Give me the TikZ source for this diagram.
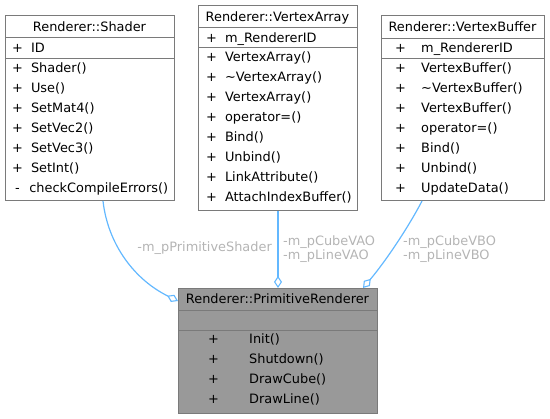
\documentclass[tikz,border=0pt]{standalone}
\usepackage{fontspec}
\setmainfont{DejaVu Sans}
\usetikzlibrary{arrows.meta,calc}
\definecolor{edgeblue}{HTML}{63B8FF}
\definecolor{boxline}{HTML}{7A7A7A}
\definecolor{lblgray}{HTML}{B4B4B4}
\definecolor{prfill}{HTML}{999999}
\begin{document}
\begin{tikzpicture}[x=1pt,y=-1pt,
  classbox/.style={draw=boxline, line width=1pt, inner sep=0pt, anchor=north west, fill=white},
  sep/.style={draw=boxline, line width=1pt},
  txt/.style={anchor=base west, inner sep=0pt, font=\fontsize{12.9}{15}\selectfont},
  ttl/.style={anchor=base, inner sep=0pt, font=\fontsize{12.9}{15}\selectfont},
  lbl/.style={inner sep=0pt, text=lblgray, font=\fontsize{12.9}{15}\selectfont},
  agg/.style={draw=edgeblue, line width=1.2pt, -{Diamond[open,length=12pt,width=8pt,line width=1.1pt]}},
]
\useasboundingbox (0,0) rectangle (550,419);

% ---------- Shader ----------
\node[classbox, minimum width=169pt, minimum height=185pt] (shader) at (5,15) {};
\draw[sep] (5,38) -- (174,38);
\draw[sep] (5,59) -- (174,59);
\node[ttl] (shT) at (89.5,31.5) {Renderer::Shader};
\node[txt] (shA) at (12,52.5) {+\hspace{8pt}ID};
\foreach \t [count=\i from 0] in {+\hspace{8pt}Shader(),+\hspace{8pt}Use(),+\hspace{8pt}SetMat4(),+\hspace{8pt}SetVec2(),+\hspace{8pt}SetVec3(),+\hspace{8pt}SetInt(),\hspace{3pt}-\hspace{9.5pt}checkCompileErrors()}
  \node[txt] (shM\i) at (12,72.7+20*\i) {\t};

% ---------- VertexArray ----------
\node[classbox, minimum width=159pt, minimum height=205pt] (va) at (198,5) {};
\draw[sep] (198,28) -- (357,28);
\draw[sep] (198,48) -- (357,48);
\node[ttl] (vaT) at (277.5,21.5) {Renderer::VertexArray};
\node[txt] (vaA) at (206,42.5) {+\hspace{8pt}m\_RendererID};
\foreach \t [count=\i from 0] in {VertexArray(),\textasciitilde VertexArray(),VertexArray(),operator=(),Bind(),Unbind(),LinkAttribute(),AttachIndexBuffer()}
  \node[txt] (vaM\i) at (206,61.7+20*\i) {+\hspace{8pt}\t};

% ---------- VertexBuffer ----------
\node[classbox, minimum width=163pt, minimum height=185pt] (vb) at (381,15) {};
\draw[sep] (381,39) -- (544,39);
\draw[sep] (381,59) -- (544,59);
\node[ttl] (vbT) at (462.5,31.5) {Renderer::VertexBuffer};
\node[txt] (vbP) at (395,52.5) {+};
\node[txt] (vbA) at (421,52.5) {m\_RendererID};
\foreach \t [count=\i from 0] in {VertexBuffer(),\textasciitilde VertexBuffer(),VertexBuffer(),operator=(),Bind(),Unbind(),UpdateData()}
  {\node[txt] (vbP\i) at (395,72.7+20*\i) {+};
   \node[txt] (vbM\i) at (421,72.7+20*\i) {\t};}

% ---------- PrimitiveRenderer ----------
\node[classbox, fill=prfill, minimum width=199pt, minimum height=125pt] (pr) at (178,288) {};
\draw[sep] (178,311) -- (377,311);
\draw[sep] (178,331) -- (377,331);
\node[ttl] (prT) at (277.5,304) {Renderer::PrimitiveRenderer};
\foreach \t [count=\i from 0] in {Init(),Shutdown(),DrawCube(),DrawLine()}
  {\node[txt] (prP\i) at (208,343.7+20*\i) {+};
   \node[txt] (prM\i) at (249,343.7+20*\i) {\t};}

% ---------- connectors ----------
\draw[agg] ($(shader.south west)+(98,0)$) .. controls (108,245) and (135,280) .. ($(pr.north west)+(0,13)$);
\draw[agg] (va.south) -- (pr.north);
\draw[agg] ($(vb.south west)+(41,0)$) .. controls (408,228) and (385,262) .. ($(pr.north east)+(-15,0)$);

% ---------- labels ----------
\node[lbl, anchor=base east] (l1) at (272,252) {-m\_pPrimitiveShader};
\node[lbl, anchor=base west] (l2) at (283,246) {-m\_pCubeVAO};
\node[lbl, anchor=base west] (l3) at (283,260) {-m\_pLineVAO};
\node[lbl, anchor=base west] (l4) at (403,246) {-m\_pCubeVBO};
\node[lbl, anchor=base west] (l5) at (403,260) {-m\_pLineVBO};
\end{tikzpicture}
\end{document}
